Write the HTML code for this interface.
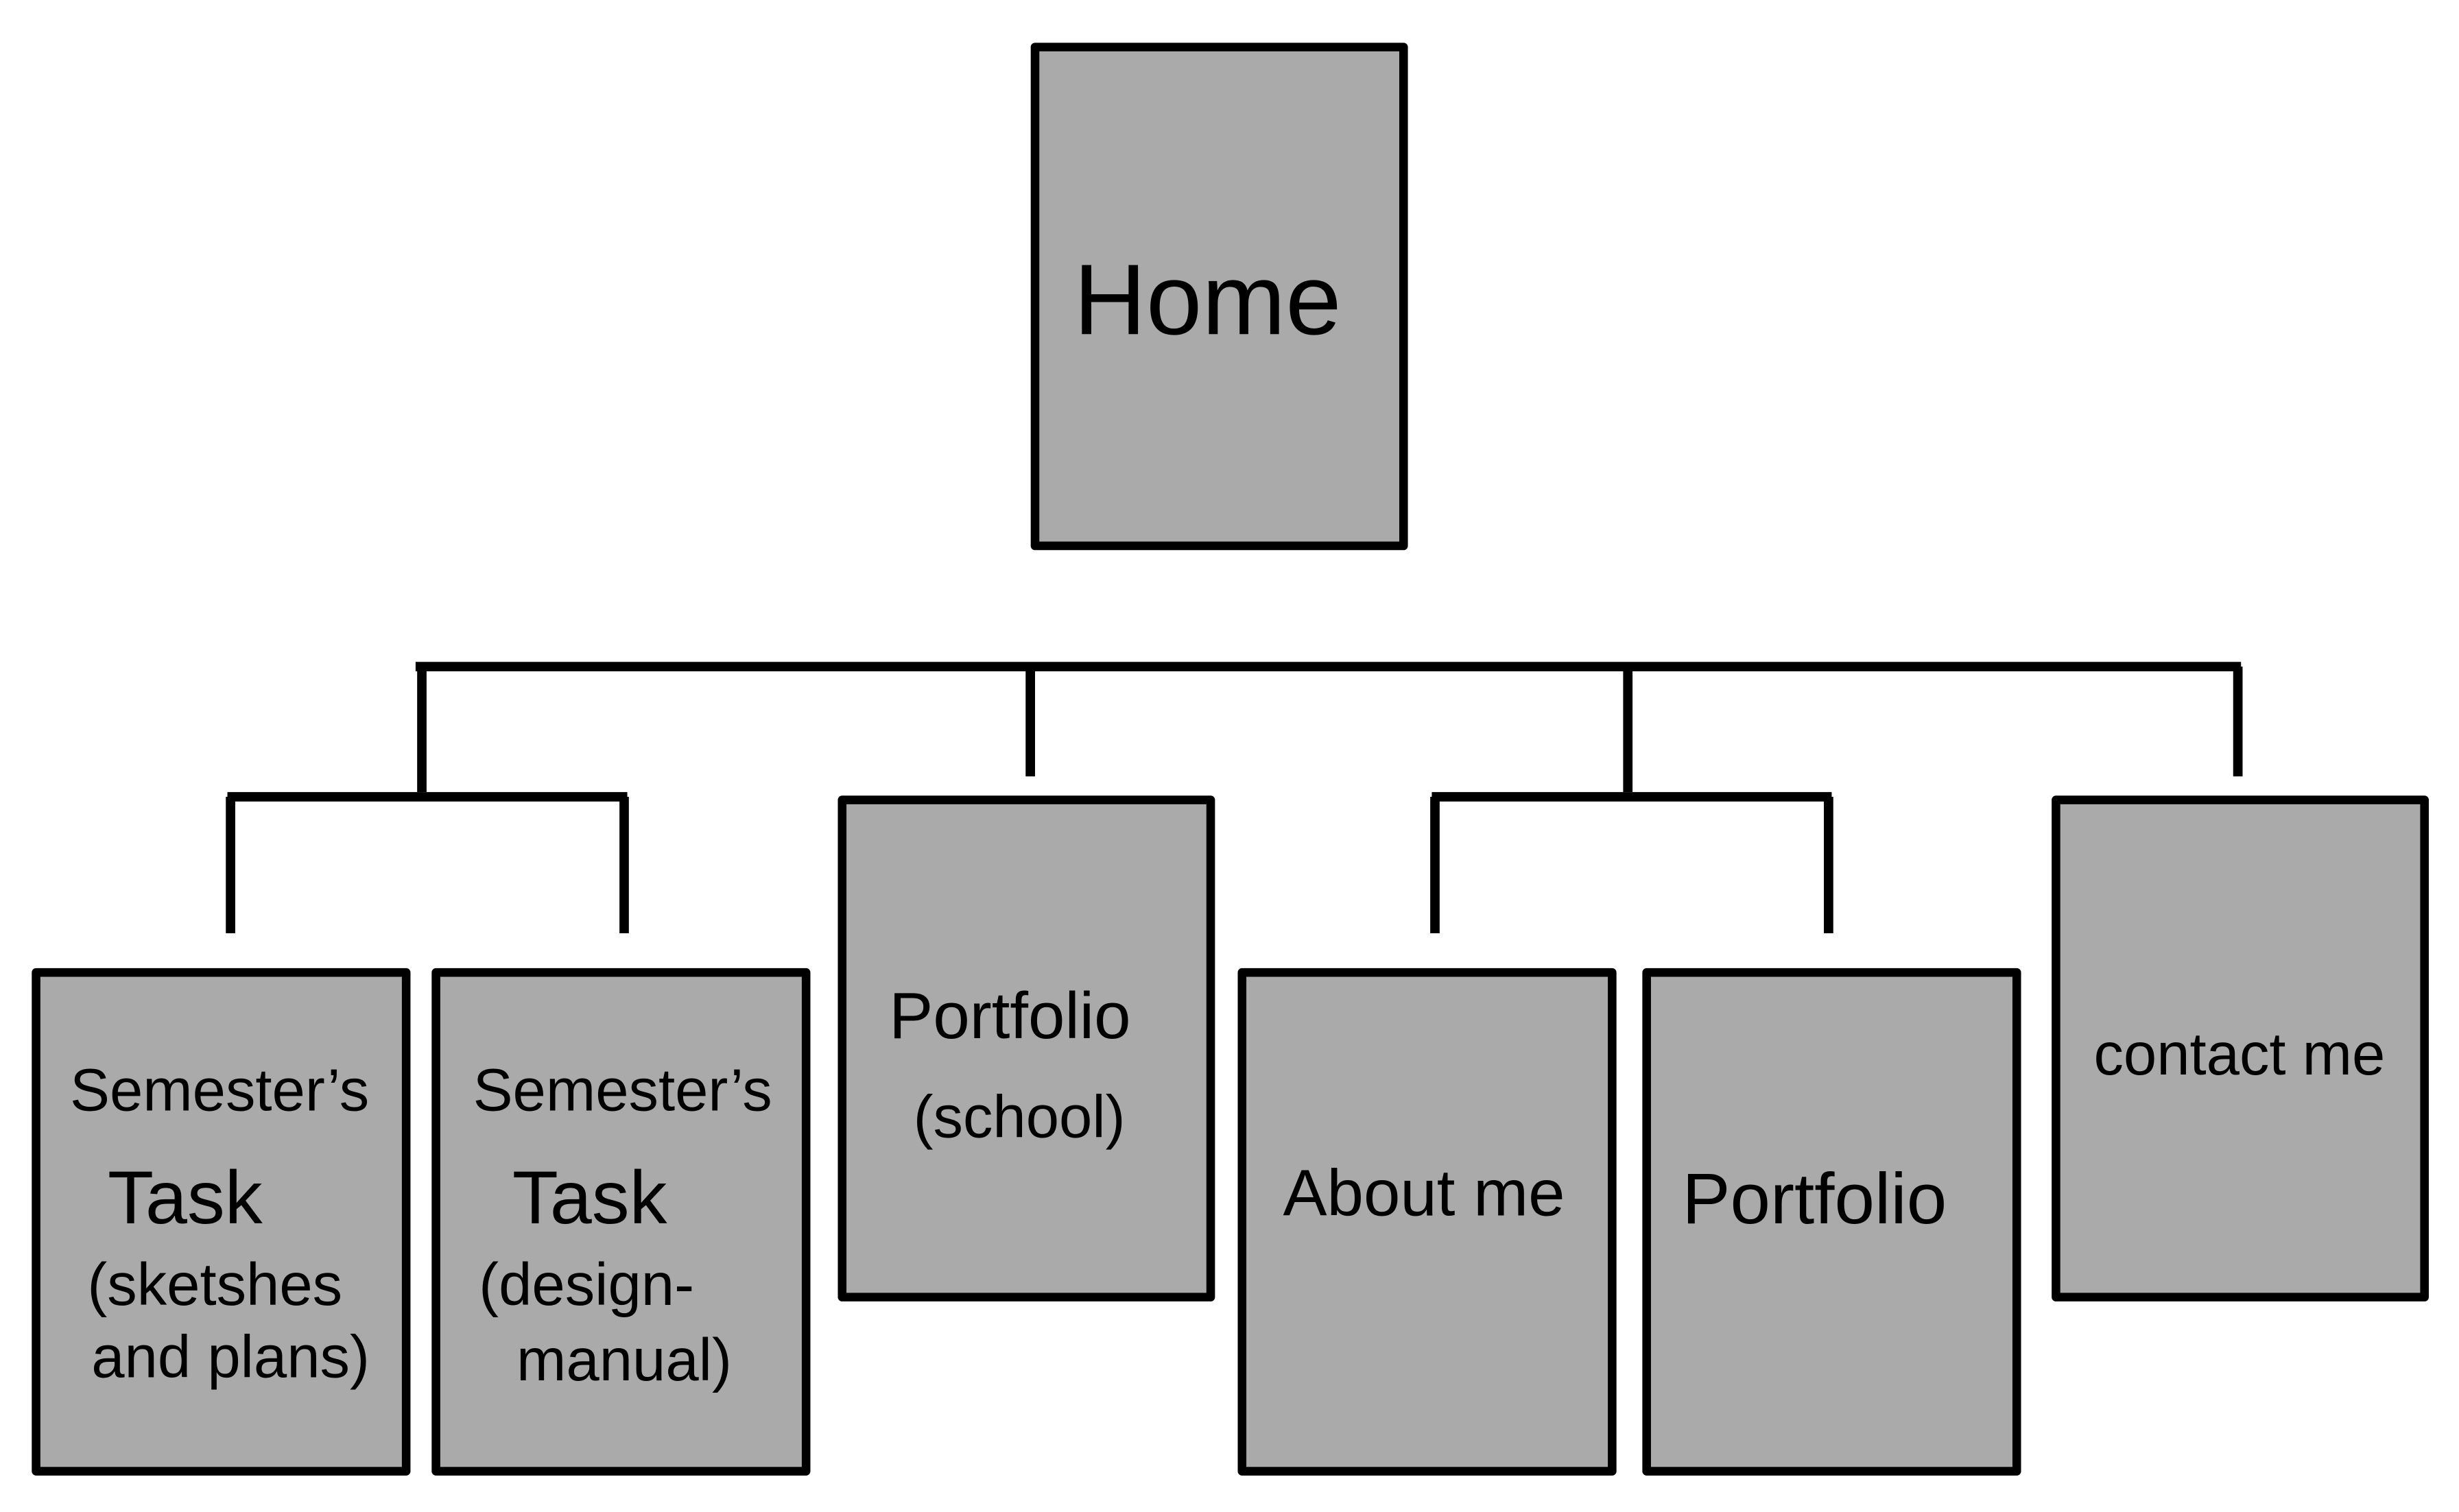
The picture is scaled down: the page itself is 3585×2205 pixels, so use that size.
<!DOCTYPE html>
<html><head><meta charset="utf-8"><style>
html,body{margin:0;padding:0;background:#fff;}
svg{display:block;}
text{font-family:"Liberation Sans Narrow","Liberation Sans",sans-serif;fill:#000;}
</style></head><body>
<svg width="3585" height="2205" viewBox="0 0 1568 964" preserveAspectRatio="none" xmlns="http://www.w3.org/2000/svg">
<g fill="#aaaaaa" stroke="#000" stroke-width="5.5" stroke-linejoin="round">
<rect x="660" y="30" width="235" height="318"/>
<rect x="23" y="620" width="236" height="318"/>
<rect x="278" y="620" width="236" height="318"/>
<rect x="537" y="510" width="235" height="317"/>
<rect x="792" y="620" width="236" height="318"/>
<rect x="1050" y="620" width="236" height="318"/>
<rect x="1311" y="510" width="235" height="317"/>
</g>
<g stroke="#000" stroke-width="6" fill="none">
<line x1="265" y1="425" x2="1429" y2="425"/>
<line x1="269" y1="425" x2="269" y2="505"/>
<line x1="657" y1="425" x2="657" y2="495"/>
<line x1="1038" y1="425" x2="1038" y2="505"/>
<line x1="1427" y1="425" x2="1427" y2="495"/>
<line x1="145" y1="508" x2="400" y2="508"/>
<line x1="147" y1="508" x2="147" y2="595"/>
<line x1="398" y1="508" x2="398" y2="595"/>
<line x1="913" y1="508" x2="1168" y2="508"/>
<line x1="915" y1="508" x2="915" y2="595"/>
<line x1="1166" y1="508" x2="1166" y2="595"/>
</g>
<text x="770" y="213" font-size="64" text-anchor="middle">Home</text>
<g font-size="38">
<text x="140" y="708" text-anchor="middle">Semester’s</text>
<text x="118" y="780" font-size="48" text-anchor="middle">Task</text>
<text x="137" y="832" text-anchor="middle">(sketshes</text>
<text x="147" y="878" text-anchor="middle">and plans)</text>
<text x="397" y="708" text-anchor="middle">Semester’s</text>
<text x="376" y="780" font-size="48" text-anchor="middle">Task</text>
<text x="374" y="832" text-anchor="middle">(design-</text>
<text x="398" y="880" text-anchor="middle">manual)</text>
<text x="644" y="662" font-size="42" text-anchor="middle">Portfolio</text>
<text x="650" y="725" text-anchor="middle">(school)</text>
<text x="908" y="775" font-size="42" text-anchor="middle">About me</text>
<text x="1157" y="780" font-size="46" text-anchor="middle">Portfolio</text>
<text x="1428" y="685" text-anchor="middle">contact me</text>
</g>
</svg>
</body></html>
